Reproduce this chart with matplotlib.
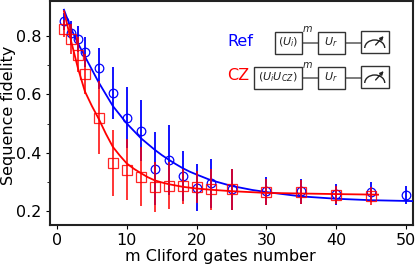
import matplotlib
matplotlib.use("Agg")
import matplotlib.pyplot as plt
from matplotlib.patches import Rectangle, Arc

# data
m_ref = [1, 2, 3, 4, 6, 8, 10, 12, 14, 16, 18, 20, 22, 25, 30, 35, 40, 45, 50]
f_ref = [0.85, 0.81, 0.79, 0.745, 0.69, 0.605, 0.52, 0.475, 0.345, 0.375, 0.32, 0.28, 0.295, 0.275, 0.268, 0.267, 0.258, 0.265, 0.255]
e_ref = [0.03, 0.04, 0.045, 0.05, 0.07, 0.09, 0.105, 0.105, 0.125, 0.12, 0.085, 0.08, 0.085, 0.07, 0.047, 0.042, 0.036, 0.035, 0.031]
m_cz = [1, 2, 3, 4, 6, 8, 10, 12, 14, 16, 18, 20, 22, 25, 30, 35, 40, 45]
f_cz = [0.825, 0.79, 0.735, 0.67, 0.52, 0.365, 0.342, 0.318, 0.283, 0.287, 0.285, 0.282, 0.275, 0.275, 0.265, 0.265, 0.255, 0.252]
e_cz = [0.03, 0.05, 0.06, 0.07, 0.125, 0.113, 0.105, 0.1, 0.085, 0.08, 0.06, 0.055, 0.07, 0.07, 0.045, 0.04, 0.03, 0.03]
fit_m_ref = [1, 2, 3, 4, 5, 6, 7, 8, 9, 10, 11, 12, 13, 14, 15, 16, 17, 18, 19, 20, 22, 25, 28, 30, 35, 40, 45, 51]
fit_ref = [0.89, 0.826, 0.775, 0.73, 0.685, 0.64, 0.6, 0.56, 0.53, 0.5, 0.475, 0.45, 0.43, 0.41, 0.392, 0.376, 0.361, 0.347, 0.335, 0.325, 0.306, 0.286, 0.272, 0.265, 0.25, 0.242, 0.237, 0.234]
fit_m_cz = [1, 2, 3, 4, 5, 6, 7, 8, 9, 10, 11, 12, 13, 14, 15, 16, 18, 20, 22, 25, 30, 35, 40, 46]
fit_cz = [0.885, 0.785, 0.69, 0.61, 0.56, 0.515, 0.465, 0.42, 0.39, 0.363, 0.345, 0.33, 0.316, 0.305, 0.298, 0.292, 0.283, 0.277, 0.273, 0.268, 0.262, 0.26, 0.258, 0.256]

fig = plt.figure(figsize=(4.15, 2.66), dpi=100)
ax = fig.add_axes([50 / 415, 1 - 225 / 266, 363 / 415, 224 / 266])

ax.errorbar(m_ref, f_ref, yerr=e_ref, fmt="o", color="blue", mfc="none", ms=6.2, mew=0.9, elinewidth=1.3, zorder=2)
ax.plot(fit_m_ref, fit_ref, color="blue", lw=1.3, zorder=3)
ax.errorbar(m_cz, f_cz, yerr=e_cz, fmt="s", color="red", mfc="none", ms=7, mew=0.9, elinewidth=1.3, alpha=0.85, zorder=4)
ax.plot(fit_m_cz, fit_cz, color="red", lw=1.3, zorder=5)

ax.set_xlim(-1, 51)
ax.set_ylim(0.152, 0.92)
ax.set_xticks([0, 10, 20, 30, 40, 50])
ax.set_yticks([0.2, 0.4, 0.6, 0.8])
ax.set_yticks([0.3, 0.5, 0.7], minor=True)
ax.tick_params(labelsize=11.5, length=3, pad=3)
ax.tick_params(which="minor", length=2)
fig.text(220 / 415, 1 - 257 / 266, "m Cliford gates number", fontsize=11.5, ha="center", va="center")
fig.text(9 / 415, 1 - 115 / 266, "Sequence fidelity", fontsize=11.5, rotation=90, ha="center", va="center")
for s in ax.spines.values():
    s.set_linewidth(1.5)
    s.set_color("#222222")

# circuit sketches, in pixel coords
ov = fig.add_axes([0, 0, 1, 1])
ov.set_xlim(0, 415)
ov.set_ylim(266, 0)
ov.axis("off")


def box(x0, x1, y0, y1, txt=None):
    ov.add_patch(Rectangle((x0, y0), x1 - x0, y1 - y0, fc="white", ec="#333333", lw=1, zorder=3))
    if txt:
        ov.text((x0 + x1) / 2, (y0 + y1) / 2, txt, ha="center", va="center", fontsize=8, color="#222222", zorder=4)


def meter(x0, x1, y0, y1):
    box(x0, x1, y0, y1)
    cx = (x0 + x1) / 2
    ov.add_patch(Arc((cx, y1 - 5), 20, 16, theta1=180, theta2=360, color="#222222", lw=1, zorder=5))
    ov.annotate("", xy=(x1 - 3, y0 + 3), xytext=(cx - 1, y1 - 6),
                arrowprops=dict(arrowstyle="-|>", color="#222222", lw=1, mutation_scale=5), zorder=5)


for y0, y1, x0, label in [(31.5, 53.5, 274.5, r"$(U_i)$"), (66.5, 88.5, 253.5, r"$(U_iU_{CZ})$")]:
    ym = (y0 + y1) / 2
    ov.plot([290, 375], [ym, ym], color="#666666", lw=1.2, zorder=2)
    box(x0, 301.5, y0, y1, label)
    box(317.5, 345, y0, y1, r"$U_r$")
    meter(361, 388.5, y0 - 0.5, y1 - 0.5)
    ov.text(307, y0 - 2, r"$m$", ha="center", va="center", fontsize=7, color="#222222")

ov.text(227, 41, "Ref", color="blue", fontsize=11.5, ha="left", va="center")
ov.text(227, 75, "CZ", color="red", fontsize=11.5, ha="left", va="center")

fig.savefig("out.png", dpi=100)
